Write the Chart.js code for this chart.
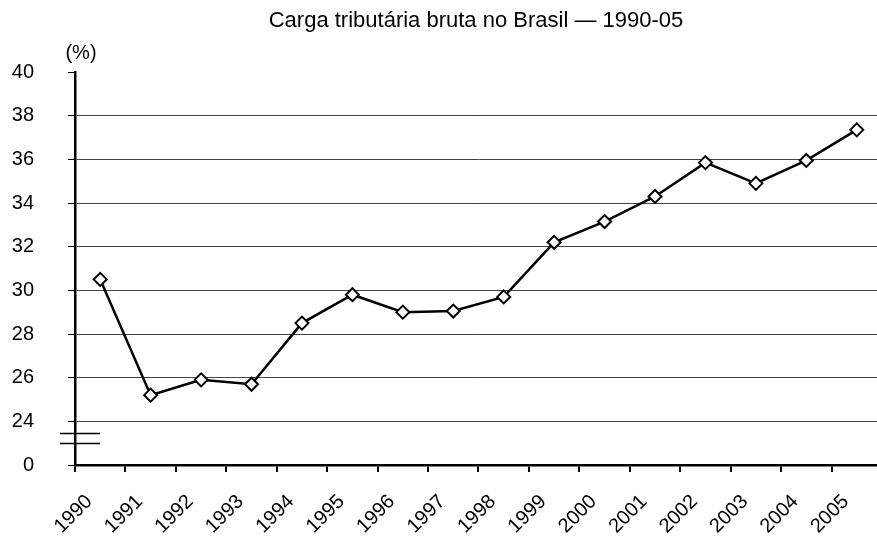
<!DOCTYPE html>
<html>
<head>
<meta charset="utf-8">
<script src="https://cdn.jsdelivr.net/npm/chart.js@4/dist/chart.umd.min.js"></script>
<style>
  html, body { margin: 0; padding: 0; background: #fff; overflow: hidden; }
  #wrap { width: 877px; height: 540px; overflow: hidden; }
</style>
</head>
<body>
<div id="wrap"><canvas id="chart" width="892" height="540"></canvas></div>
<script>
const anos = ['1990', '1991', '1992', '1993', '1994', '1995', '1996', '1997',
              '1998', '1999', '2000', '2001', '2002', '2003', '2004', '2005'];
const carga = [30.5, 25.2, 25.9, 25.7, 28.5, 29.8, 29.0, 29.05,
               29.7, 32.2, 33.15, 34.3, 35.85, 34.9, 35.95, 37.35];
const yMin = 22;       // shown as "0" (axis break)
const yMax = 40;
const yStep = 2;
const quebra = [23.02, 23.48];  // break marks on the y axis
const titulo = 'Carga tributária bruta no Brasil — 1990-05';

const FONT = '"Liberation Sans", Arial, sans-serif';
const VISIVEL = 877;  // visible page width, the canvas runs a bit past it

const extrasPlugin = {
    id: 'extras',
    afterDraw(chart) {
        const ctx = chart.ctx;
        const y = chart.scales.y;
        const area = chart.chartArea;
        ctx.save();
        ctx.strokeStyle = '#000';
        ctx.lineWidth = 1.5;
        quebra.forEach(v => {
            const py = Math.round(y.getPixelForValue(v)) + 0.5;
            ctx.beginPath();
            ctx.moveTo(area.left - 15, py);
            ctx.lineTo(area.left + 25, py);
            ctx.stroke();
        });
        ctx.fillStyle = '#000';
        ctx.textAlign = 'center';
        ctx.textBaseline = 'middle';
        ctx.font = '20px ' + FONT;
        ctx.fillText('(%)', area.left + 6, area.top - 19);
        ctx.font = '22px ' + FONT;
        ctx.fillText(titulo, (area.left + VISIVEL) / 2, 21);
        ctx.restore();
    }
};

new Chart(document.getElementById('chart').getContext('2d'), {
    type: 'line',
    data: {
        labels: anos,
        datasets: [{
            data: carga,
            borderColor: '#000',
            borderWidth: 2.5,
            tension: 0,
            pointStyle: 'rectRot',
            pointRadius: 6.5,
            pointBorderWidth: 2,
            pointBackgroundColor: '#fff',
            pointBorderColor: '#000'
        }]
    },
    options: {
        responsive: false,
        animation: false,
        layout: { padding: { left: 0, right: 0, top: 72, bottom: 0 } },
        plugins: {
            legend: { display: false },
            tooltip: { enabled: false },
            title: { display: false }
        },
        scales: {
            x: {
                offset: true,
                grid: {
                    offset: true,
                    drawOnChartArea: false,
                    drawTicks: true,
                    tickLength: 7,
                    color: '#000',
                    lineWidth: 2
                },
                border: { display: true, color: '#000', width: 2.5 },
                ticks: {
                    color: '#000',
                    font: { family: FONT, size: 20 },
                    minRotation: 45,
                    maxRotation: 45,
                    autoSkip: false,
                    padding: 18,
                    labelOffset: -11
                },
                afterFit(scale) {
                    scale.height = 75;
                }
            },
            y: {
                min: yMin,
                max: yMax,
                grid: {
                    color: ctx => (ctx.tick && ctx.tick.value > yMin && ctx.tick.value < yMax) ? '#444' : 'rgba(0,0,0,0)',
                    tickColor: '#000',
                    tickLength: 7,
                    lineWidth: 1
                },
                border: { display: true, color: '#000', width: 2.5 },
                ticks: {
                    stepSize: yStep,
                    color: '#000',
                    font: { family: FONT, size: 20 },
                    padding: 34,
                    callback: v => v === yMin ? '0' : v
                },
                afterFit(scale) {
                    scale.width = 75;
                }
            }
        }
    },
    plugins: [extrasPlugin]
});
</script>
</body>
</html>
